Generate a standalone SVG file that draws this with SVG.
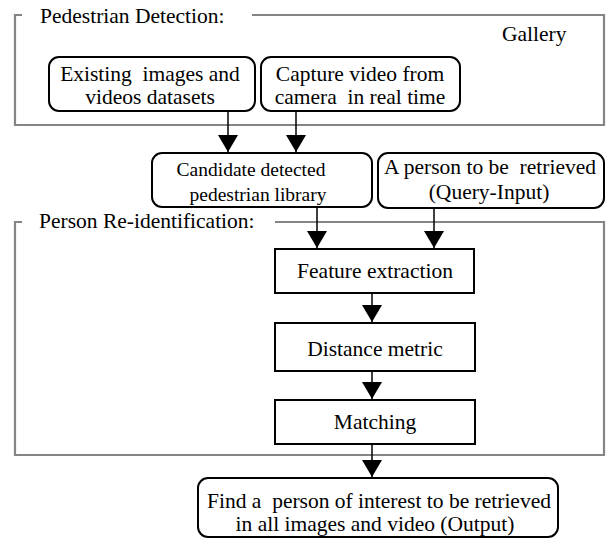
<svg xmlns="http://www.w3.org/2000/svg" width="606" height="540" viewBox="0 0 606 540" font-family="'Liberation Serif', 'DejaVu Serif', serif">
  <defs>
    <style>
      .frame { fill: none; stroke: #858585; stroke-width: 2.2; }
      .box { fill: #ffffff; stroke: #000000; stroke-width: 2; }
      .wire { fill: none; stroke: #000000; stroke-width: 1.5; }
      text { font-family: 'Liberation Serif', 'DejaVu Serif', serif; font-size: 21.5px; fill: #000000; white-space: pre; }
      .mid { text-anchor: middle; }
      .small { font-size: 19.5px; }
    </style>
    <marker id="tri" viewBox="0 0 17 20" refX="17" refY="10" markerWidth="17" markerHeight="20" markerUnits="userSpaceOnUse" orient="auto">
      <path d="M0,0 L17,10 L0,20 z" fill="#000000"/>
    </marker>
  </defs>

  <rect width="606" height="540" fill="#ffffff"/>

  <!-- Stage frames with open-titled top edges -->
  <g id="frame-detection">
    <path class="frame" d="M22,15 H15 V125 H604 V15 H252"/>
    <text x="40" y="23">Pedestrian Detection:</text>
    <text x="502" y="41">Gallery</text>
  </g>
  <g id="frame-reid">
    <path class="frame" d="M22,222 H15 V455 H604 V222 H275"/>
    <text x="39" y="228">Person Re-identification:</text>
  </g>

  <!-- Connectors -->
  <g id="connectors">
    <line class="wire" x1="228" y1="111" x2="228" y2="152" marker-end="url(#tri)"/>
    <line class="wire" x1="296" y1="111" x2="296" y2="152" marker-end="url(#tri)"/>
    <line class="wire" x1="317" y1="207" x2="317" y2="248" marker-end="url(#tri)"/>
    <line class="wire" x1="434" y1="208" x2="434" y2="248" marker-end="url(#tri)"/>
    <line class="wire" x1="372" y1="293" x2="372" y2="322" marker-end="url(#tri)"/>
    <line class="wire" x1="372" y1="371" x2="372" y2="399" marker-end="url(#tri)"/>
    <line class="wire" x1="372" y1="444" x2="372" y2="477" marker-end="url(#tri)"/>
  </g>

  <!-- Nodes -->
  <g id="existing-datasets">
    <rect class="box" x="49" y="57" width="206" height="54" rx="10"/>
    <text class="mid" x="150" y="81">Existing  images and</text>
    <text class="mid" x="150" y="104">videos datasets</text>
  </g>
  <g id="capture-video">
    <rect class="box" x="261" y="57" width="199" height="54" rx="10"/>
    <text class="mid" x="360" y="81">Capture video from</text>
    <text class="mid" x="360" y="104">camera  in real time</text>
  </g>
  <g id="candidate-library">
    <rect class="box" x="152" y="153" width="220" height="54" rx="10"/>
    <text class="mid small" x="251" y="176">Candidate detected</text>
    <text class="mid small" x="258" y="201">pedestrian library</text>
  </g>
  <g id="query-input">
    <rect class="box" x="378" y="153" width="226" height="55" rx="10"/>
    <text class="mid" x="490" y="174">A person to be  retrieved</text>
    <text class="mid" x="489" y="199">(Query-Input)</text>
  </g>
  <g id="feature-extraction">
    <rect class="box" x="275" y="249" width="199" height="44"/>
    <text class="mid" x="375" y="278">Feature extraction</text>
  </g>
  <g id="distance-metric">
    <rect class="box" x="275" y="323" width="200" height="48"/>
    <text class="mid" x="375" y="356">Distance metric</text>
  </g>
  <g id="matching">
    <rect class="box" x="275" y="400" width="200" height="44"/>
    <text class="mid" x="375" y="429">Matching</text>
  </g>
  <g id="output">
    <rect class="box" x="198" y="478" width="360" height="59" rx="10"/>
    <text class="mid" x="379" y="508">Find a  person of interest to be retrieved</text>
    <text class="mid" x="375" y="531">in all images and video (Output)</text>
  </g>
</svg>
